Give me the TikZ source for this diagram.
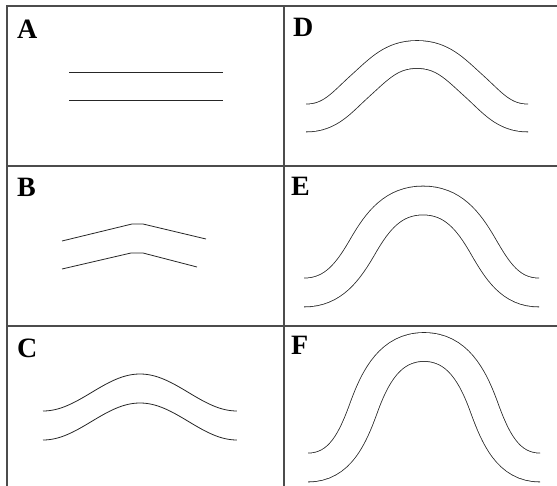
\documentclass[tikz,border=0pt]{standalone}
\usepackage{fontspec}
\setmainfont{Liberation Serif}
\begin{document}
\begin{tikzpicture}[x=1pt,y=-1pt,
  frame/.style={draw=black!70, line width=1.1pt},
  strata/.style={draw=black!85, line width=0.8pt},
  band/.style={draw=black!85, line cap=butt},
  gap/.style={draw=white, line cap=butt},
  lab/.style={anchor=base west, inner sep=0pt, font=\fontsize{28}{30}\selectfont\bfseries}]
\useasboundingbox (0,0) rectangle (557,486);
% frame
\draw[frame] (7,486) -- (7,6) -- (557,6);
\draw[frame] (7,166) -- (557,166);
\draw[frame] (7,326) -- (557,326);
\draw[frame] (284,6) -- (284,486);
% labels
\node[lab] (la) at (17,39) {A};
\node[lab] (lb) at (17,197) {B};
\node[lab] (lc) at (17,357) {C};
\node[lab] (ld) at (293,37) {D};
\node[lab] (le) at (291,196) {E};
\node[lab] (lf) at (291,355) {F};
% A
\draw[strata] (69,72) -- (223,72);
\draw[strata] (69,100) -- (223,100);
% B
\draw[strata] (62,241) -- (132,224) -- (143,224) -- (206,239);
\draw[strata] (62,269) -- (131,253) -- (143,253) -- (197,267);
% C
\draw[strata] plot[domain=-1:1, samples=80, smooth] ({140+97*\x}, {392.5-18.5*cos(180*\x)});
\draw[strata] plot[domain=-1:1, samples=80, smooth] ({140+97*\x}, {421.5-18.5*cos(180*\x)});
% D
\def\pathD{(296,118) -- (306,118) to[out=0,in=222] (360,86) to[out=42,in=180] (417,54.5)
   to[out=0,in=138] (474,86) to[out=-42,in=180] (528,118) -- (538,118)}
\begin{scope}
\clip (306,30) rectangle (528,150);
\draw[band, line width=28.6pt] \pathD;
\end{scope}
\draw[gap, line width=27pt] \pathD;
% E
\def\pathE{(294,292.5) -- (304,292.5) to[out=0,in=240] (363,246) to[out=60,in=180] (423,200.5)
   to[out=0,in=120] (483,246) to[out=-60,in=180] (539,292.5) -- (549,292.5)}
\begin{scope}
\clip (304,180) rectangle (539,320);
\draw[band, line width=29.6pt] \pathE;
\end{scope}
\draw[gap, line width=28pt] \pathE;
% F
\def\pathF{(298,467.5) -- (308,467.5) to[out=0,in=250] (364,407) to[out=70,in=180] (424,347)
   to[out=0,in=110] (484,407) to[out=-70,in=180] (540,467.5) -- (550,467.5)}
\begin{scope}
\clip (308,330) rectangle (540,486);
\draw[band, line width=29.6pt] \pathF;
\end{scope}
\draw[gap, line width=28pt] \pathF;
\end{tikzpicture}
\end{document}
